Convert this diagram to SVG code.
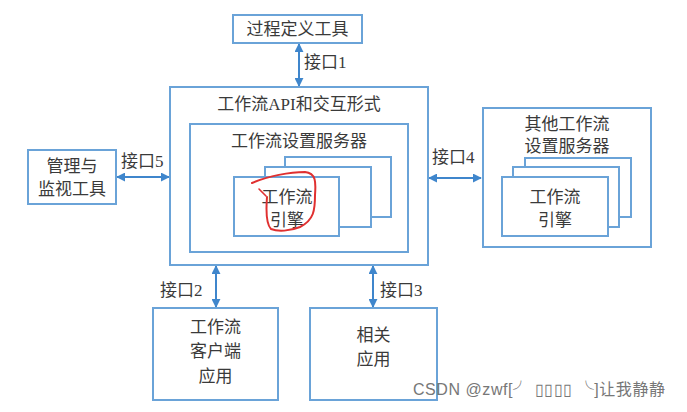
<svg xmlns="http://www.w3.org/2000/svg" width="687" height="412" viewBox="0 0 687 412">
<defs>
<style>
.box{fill:#fff;stroke:#6aa3d8;stroke-width:2}
.t{font-family:"Liberation Serif","Noto Sans CJK SC",serif;font-size:17px;fill:#3a3a3a;text-anchor:middle}
.l{font-family:"Liberation Serif","Noto Sans CJK SC",serif;font-size:17px;fill:#3a3a3a}
.c{stroke:#3f86cc;stroke-width:2;fill:none;marker-start:url(#a);marker-end:url(#a)}
</style>
<marker id="a" viewBox="0 0 10 10" refX="9" refY="5" markerWidth="9" markerHeight="9" markerUnits="userSpaceOnUse" orient="auto-start-reverse">
<path d="M0,0L10,5L0,10z" fill="#3f86cc"/>
</marker>
</defs>
<rect width="687" height="412" fill="#fff"/>
<g id="connectors">
<line class="c" x1="299" y1="44" x2="299" y2="86"/>
<line class="c" x1="117" y1="177" x2="169" y2="177"/>
<line class="c" x1="429" y1="178" x2="481" y2="178"/>
<line class="c" x1="216" y1="266" x2="216" y2="307"/>
<line class="c" x1="373" y1="266" x2="373" y2="307"/>
<text class="l" x="304" y="68">接口1</text>
<text class="l" x="121" y="167">接口5</text>
<text class="l" x="432" y="163">接口4</text>
<text class="l" x="160" y="296">接口2</text>
<text class="l" x="380" y="296">接口3</text>
</g>
<g id="process-tool">
<rect class="box" x="233" y="15" width="129" height="28"/>
<text class="t" x="297.5" y="35">过程定义工具</text>
</g>
<g id="api">
<rect class="box" x="170" y="87" width="258" height="178"/>
<text class="t" x="299" y="110">工作流API和交互形式</text>
</g>
<g id="server">
<rect class="box" x="190" y="124" width="218" height="128"/>
<text class="t" x="299" y="147">工作流设置服务器</text>
</g>
<g id="engine">
<rect class="box" x="285" y="157" width="106" height="60"/>
<rect class="box" x="265" y="167" width="106" height="60"/>
<rect class="box" x="234" y="177" width="105" height="59"/>
<text class="t" x="287" y="203">工作流</text>
<text class="t" x="287" y="226">引擎</text>
<path d="M252,183 C268,176 290,172 305,172 C316,173 316,182 315,195 C315,210 314,220 300,227 C290,231 278,232 271,229 C266,224 266,210 267,197" fill="none" stroke="#e03030" stroke-width="2" stroke-linecap="round"/>
<path d="M259,189 L266,196" fill="none" stroke="#e03030" stroke-width="1.6" stroke-linecap="round"/>
</g>
<g id="monitor">
<rect class="box" x="28" y="150" width="88" height="54"/>
<text class="t" x="72" y="172">管理与</text>
<text class="t" x="72" y="195">监视工具</text>
</g>
<g id="other-server">
<rect class="box" x="483" y="108" width="168" height="139"/>
<text class="t" x="567" y="130">其他工作流</text>
<text class="t" x="567" y="152">设置服务器</text>
<rect class="box" x="525" y="158" width="106" height="59"/>
<rect class="box" x="513" y="167" width="106" height="60"/>
<rect class="box" x="502" y="177" width="106" height="59"/>
<text class="t" x="555" y="203">工作流</text>
<text class="t" x="555" y="226">引擎</text>
</g>
<g id="client">
<rect class="box" x="153" y="308" width="125" height="92"/>
<text class="t" x="215.5" y="333">工作流</text>
<text class="t" x="215.5" y="357">客户端</text>
<text class="t" x="215.5" y="382">应用</text>
</g>
<g id="related">
<rect class="box" x="310" y="308" width="127" height="92"/>
<text class="t" x="373.5" y="341">相关</text>
<text class="t" x="373.5" y="365">应用</text>
</g>
<text x="413" y="395" textLength="252" style="font-family:'Liberation Sans','Noto Sans CJK SC',sans-serif;font-size:16px;fill:#777">CSDN @zwf[╯ ▯▯▯▯ ╰]让我静静</text>
</svg>
